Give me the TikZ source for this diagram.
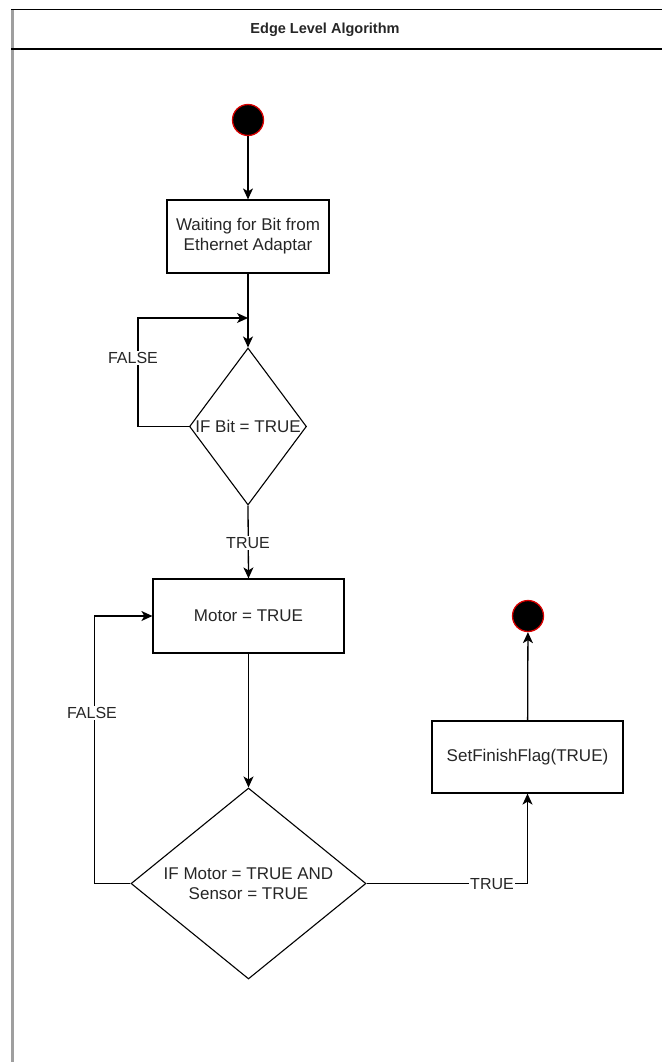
\documentclass[tikz,border=0pt]{standalone}
\usepackage{fontspec}
\setmainfont{Liberation Sans}
\usetikzlibrary{shapes.geometric,arrows.meta}
\begin{document}
\begin{tikzpicture}[x=1pt,y=-1pt,
  font=\fontsize{17}{20}\selectfont,
  every node/.append style={text=black!85},
  flow/.style={line width=1.3pt,-{Stealth[length=11pt,width=10pt,inset=3pt]}},
  actbox/.style={draw,line width=1.2pt,rectangle,inner sep=0pt,align=center},
  decision/.style={draw,line width=1.1pt,diamond,inner sep=0pt},
  terminal/.style={circle,fill=black,draw=red!85!black,line width=1.3pt,minimum size=31pt,inner sep=0pt},
  edgelabel/.style={fill=white,inner sep=1pt,font=\fontsize{16}{18}\selectfont}]
\useasboundingbox (0,0) rectangle (662,1062);

% swimlane frame and title bar
\draw[gray!75,line width=2.5pt] (12.5,9) -- (12.5,1062);
\draw[line width=1.4pt] (11,9.5) -- (662,9.5);
\draw[line width=1.4pt] (11,49) -- (662,49);
\node (title) at (325,30) {\fontsize{14.5}{17}\selectfont\bfseries Edge Level Algorithm};

% nodes
\node[terminal] (start) at (248,120) {};
\node[actbox,minimum width=162pt,minimum height=73pt] (wait) at (248,236.5)
  {Waiting for Bit from\\Ethernet Adaptar};
\node[decision,minimum width=117pt,minimum height=157pt,
  label={center:IF Bit = TRUE}] (bitq) at (248,426.5) {};
\node[actbox,minimum width=191pt,minimum height=74pt] (motor) at (248.5,616) {Motor = TRUE};
\node[decision,minimum width=235pt,minimum height=191pt,
  label={[align=center]center:IF Motor = TRUE AND\\Sensor = TRUE}] (sensq) at (248.5,883.5) {};
\node[actbox,minimum width=191pt,minimum height=72pt] (finish) at (527.5,757) {SetFinishFlag(TRUE)};
\node[terminal] (stop) at (528,616) {};

\coordinate (bitin) at (248,318);

% connectors
\draw[flow] (start) -- (wait);
\draw[flow] (wait) -- (bitq);
\draw[flow] (bitq.west) -- (138,426.5) |- (bitin);
\node[edgelabel] (f1) at (133,358) {FALSE};
\draw[flow] (bitq.south) -- (motor.north);
\node[edgelabel] (t1) at (248,543) {TRUE};
\draw[flow] (motor) -- (sensq);
\draw[flow] (sensq.west) -- (94.5,883.5) |- (motor.west);
\node[edgelabel] (f2) at (92,713) {FALSE};
\draw[flow] (sensq.east) -| (finish.south);
\node[edgelabel] (t2) at (492,884.5) {TRUE};
\draw[flow] (finish) -- (stop);
\end{tikzpicture}
\end{document}
